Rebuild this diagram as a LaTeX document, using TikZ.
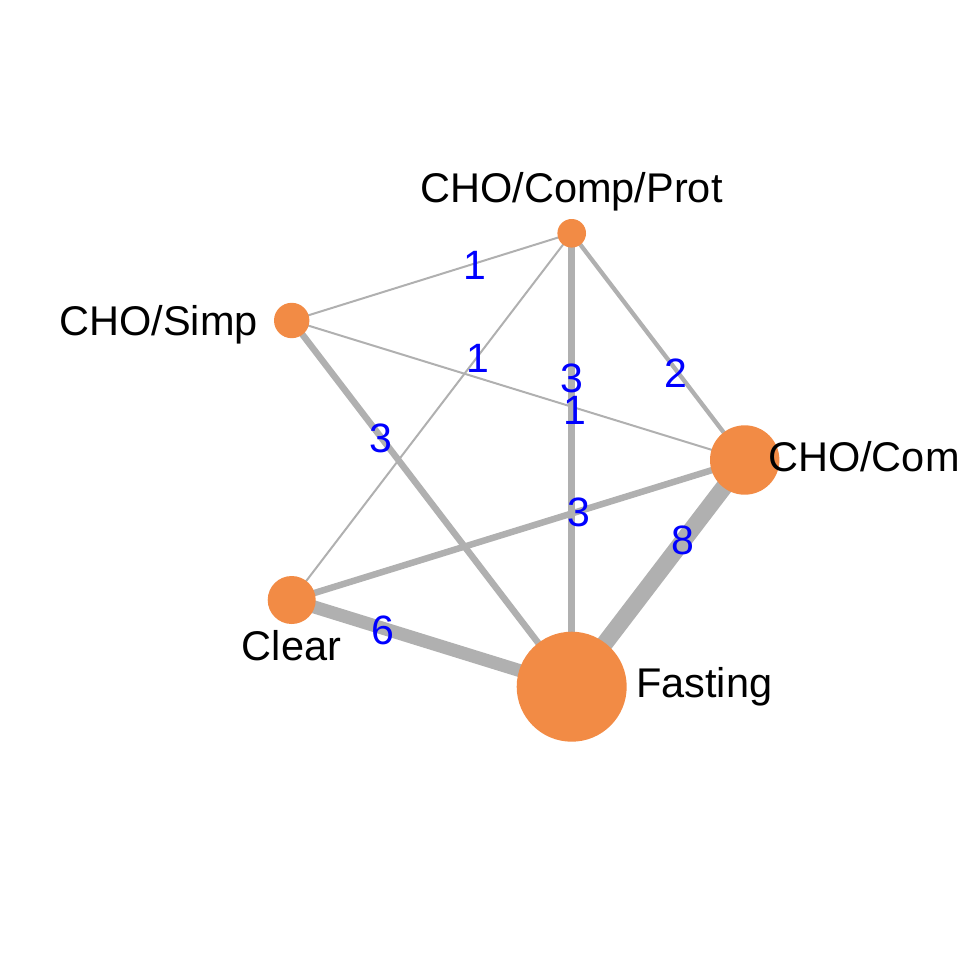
\documentclass[tikz,border=0pt]{standalone}
\usepackage{fontspec}
\setmainfont{Liberation Sans}
\definecolor{nodeorange}{RGB}{242,139,69}
\definecolor{edgegray}{RGB}{176,176,176}
\begin{document}
\begin{tikzpicture}[x=1pt,y=-1pt,
  dot/.style={circle,fill=nodeorange,draw=none,inner sep=0pt},
  edge/.style={draw=edgegray,line cap=butt},
  lab/.style={font=\fontsize{41.5}{49}\selectfont,inner sep=0pt},
  num/.style={font=\fontsize{41}{49}\selectfont,text=blue,inner sep=0pt}]
\useasboundingbox (0,0) rectangle (960,960);
% nodes (positions)
\coordinate (cP) at (571.7,233.3);
\coordinate (cS) at (291.7,320.5);
\coordinate (cC) at (744.7,460);
\coordinate (cL) at (291.7,600);
\coordinate (cF) at (571.7,686.7);
% edges
\draw[edge,line width=2pt] (cP) -- (cS);
\draw[edge,line width=2pt] (cP) -- (cL);
\draw[edge,line width=2pt] (cS) -- (cC);
\draw[edge,line width=4.3pt] (cP) -- (cC);
\draw[edge,line width=6.5pt] (cP) -- (cF);
\draw[edge,line width=6.5pt] (cS) -- (cF);
\draw[edge,line width=6.5pt] (cL) -- (cC);
\draw[edge,line width=13pt] (cL) -- (cF);
\draw[edge,line width=17pt] (cC) -- (cF);
% node circles
\node[dot,minimum size=28.6pt] (P) at (cP) {};
\node[dot,minimum size=35.4pt] (S) at (cS) {};
\node[dot,minimum size=69.4pt] (C) at (cC) {};
\node[dot,minimum size=48pt] (L) at (cL) {};
\node[dot,minimum size=110pt] (F) at (cF) {};
% edge labels
\node[num] (n1) at (475,265) {1};
\node[num] (n2) at (478,358) {1};
\node[num] (n3) at (571.7,378) {3};
\node[num] (n4) at (575,410) {1};
\node[num] (n5) at (676,373) {2};
\node[num] (n6) at (380.7,438) {3};
\node[num] (n7) at (579,512.7) {3};
\node[num] (n8) at (382.7,630) {6};
\node[num] (n9) at (683,540) {8};
% node labels
\node[lab,anchor=base] (tP) at (571.5,202.5) {CHO/Comp/Prot};
\node[lab,anchor=base east] (tS) at (258,335.5) {CHO/Simp};
\node[lab,anchor=base west] (tC) at (768,471) {CHO/Com};
\node[lab,anchor=base] (tL) at (291.5,660) {Clear};
\node[lab,anchor=base west] (tF) at (636,697) {Fasting};
\end{tikzpicture}
\end{document}
